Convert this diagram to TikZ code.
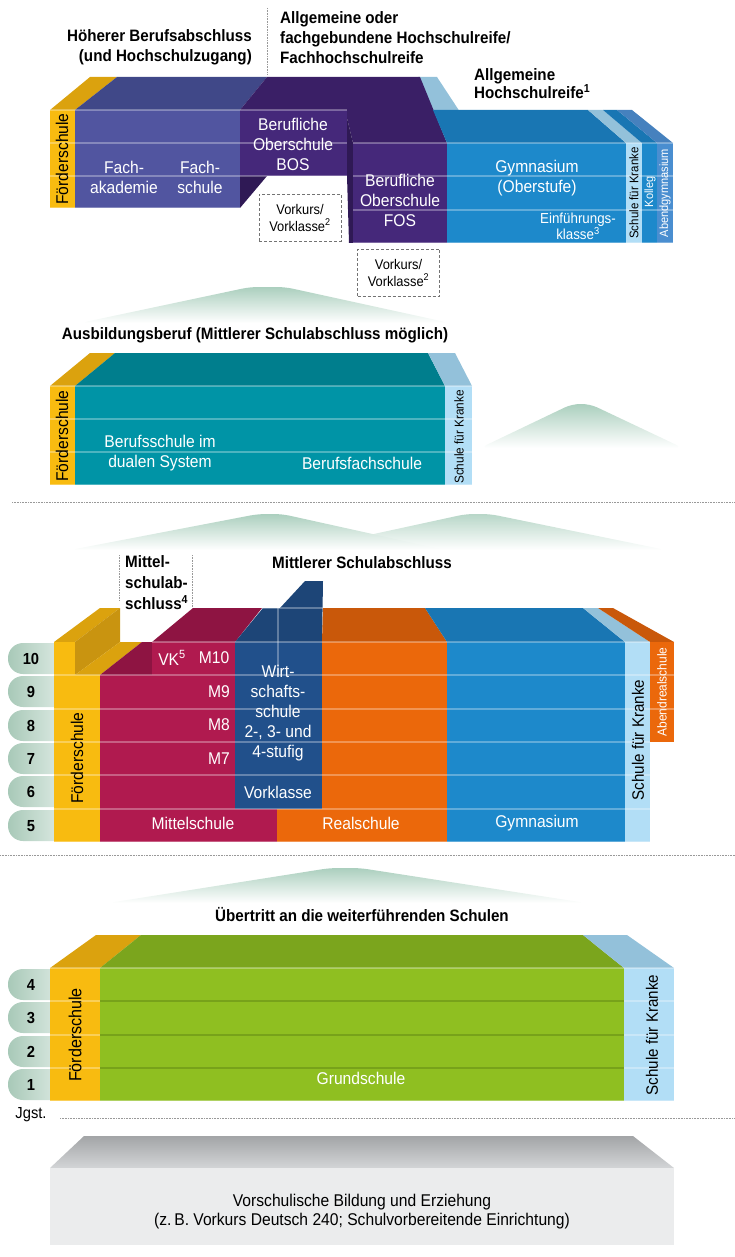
\documentclass[tikz,border=0pt]{standalone}
\usepackage{fontspec}
\setmainfont{Liberation Sans}[FakeStretch=0.92]
\usepackage{xcolor}
\usepackage{tikz}
\usetikzlibrary{positioning}
\definecolor{foerder}{HTML}{F8BB10}
\definecolor{foerdertop}{HTML}{DBA20E}
\definecolor{foerderside}{HTML}{C99410}
\definecolor{fach}{HTML}{5155A0}
\definecolor{fachtop}{HTML}{404888}
\definecolor{bos}{HTML}{45287A}
\definecolor{bostop}{HTML}{3A1F66}
\definecolor{bosside}{HTML}{2F1955}
\definecolor{gym}{HTML}{1D89CB}
\definecolor{gymtop}{HTML}{1976B3}
\definecolor{sfk}{HTML}{B2DEF6}
\definecolor{sfktop}{HTML}{93C1DA}
\definecolor{abend}{HTML}{4A8ED0}
\definecolor{abendtop}{HTML}{4681BE}
\definecolor{teal}{HTML}{0094A6}
\definecolor{tealtop}{HTML}{007E8D}
\definecolor{ms}{HTML}{B01A4F}
\definecolor{mstop}{HTML}{8E1442}
\definecolor{ws}{HTML}{21508B}
\definecolor{wstop}{HTML}{1D4577}
\definecolor{rs}{HTML}{EB680B}
\definecolor{rstop}{HTML}{C9580A}
\definecolor{gs}{HTML}{8FBF21}
\definecolor{gstop}{HTML}{7BA51D}
\definecolor{gsline}{HTML}{77A21A}
\definecolor{pillc}{HTML}{A8C9B8}
\definecolor{hillc}{HTML}{ABCFBE}
\definecolor{vorback}{HTML}{A3A5A7}
\definecolor{vortop}{HTML}{D3D5D7}
\definecolor{vorfront}{HTML}{EBECED}

\begin{document}
\begin{tikzpicture}[x=1pt,y=-1pt]
	\tikzstyle{txt}=[text=white,align=center,inner sep=0pt,font=\fontsize{17}{20}\selectfont]
	\tikzstyle{headline}=[align=center,inner sep=0pt,font=\bfseries\fontsize{16.5}{20}\selectfont]
	\tikzstyle{vert}=[rotate=90,inner sep=0pt,font=\fontsize{17}{17}\selectfont]
	\tikzstyle{smalltxt}=[font=\fontsize{12}{12}\selectfont]
	\tikzstyle{rowline}=[white,opacity=0.3,line width=1.5pt]
	\tikzstyle{pill}=[left color=pillc,right color=pillc!30,rounded corners=15pt]
	\tikzstyle{hill}=[top color=hillc,bottom color=white,rounded corners=8pt]
	\tikzstyle{grade}=[inner sep=0pt,font=\bfseries\fontsize{16}{16}\selectfont]
	\tikzstyle{vkbox}=[draw=black!55,dash pattern=on 3pt off 2pt,line width=0.9pt,align=center,inner sep=0pt,minimum width=82pt,minimum height=47pt,font=\fontsize{14}{17}\selectfont]
	\tikzstyle{dots}=[black!40,line width=0.8pt,dash pattern=on 0.8pt off 0.8pt]
	\useasboundingbox (0,0) rectangle (735,1257);

	\node[headline,align=right,anchor=east] (hberuf) at (252,47.5) {Höherer Berufsabschluss\\(und Hochschulzugang)};
	\draw[dots] (267,8) -- (267,75);
	\node[headline,align=left,anchor=west] (hfhr) at (280,37.5) {Allgemeine oder\\fachgebundene Hochschulreife/\\Fachhochschulreife};
	\node[headline,align=left,anchor=west,font=\bfseries\fontsize{16.5}{18}\selectfont] (hahr) at (474,84) {Allgemeine\\Hochschulreife\textsuperscript{1}};

	\fill[foerdertop] (50,110) -- (90,77) -- (117,77) -- (75,110) -- cycle;
	\fill[fachtop] (75,110) -- (117,77) -- (267,77) -- (240,110) -- cycle;
	\fill[sfktop] (418,77) -- (437,77) -- (460,112) -- (433,112) -- cycle;
	\fill[bostop] (240,110) -- (267,77) -- (420,77) -- (447,143) -- (353,143) -- (347,118) -- (347,110) -- cycle;
	\fill[gymtop] (433,110) -- (588,110) -- (626,143) -- (447,143) -- cycle;
	\fill[sfktop] (588,110) -- (603,110) -- (642,143) -- (626,143) -- cycle;
	\fill[gymtop] (603,110) -- (617,110) -- (657,143) -- (642,143) -- cycle;
	\fill[abendtop] (617,110) -- (632,110) -- (673,143) -- (657,143) -- cycle;
	\fill[foerder] (50,110) rectangle (75,208);
	\fill[fach] (75,110) rectangle (240,208);
	\fill[bos] (240,110) rectangle (347,176);
	\fill[bosside] (240,176) -- (267,176) -- (240,208) -- cycle;
	\fill[bosside] (347,118) -- (353,143) -- (353,243) -- (349,243) -- (347,176) -- cycle;
	\fill[bos] (353,143) rectangle (447,243);
	\fill[gym] (447,143) rectangle (626,243);
	\fill[sfk] (626,143) rectangle (642,243);
	\fill[gym] (642,143) rectangle (657,243);
	\fill[abend] (657,143) rectangle (673,243);
	\foreach \y in {110,143,176,208} \draw[rowline] (50,\y) -- (240,\y);
	\foreach \y in {110,143,176} \draw[rowline] (240,\y) -- (347,\y);
	\foreach \y in {143,176,210,243} \draw[rowline] (353,\y) -- (673,\y);
	\node[vert] (fs1) at (62,159) {Förderschule};
	\node[txt] (fachak) at (124,177) {Fach-\\akademie};
	\node[txt] (fachs) at (200,177) {Fach-\\schule};
	\node[txt] (bos) at (293,144) {Berufliche\\Oberschule\\BOS};
	\node[txt] (fos) at (400,200) {Berufliche\\Oberschule\\FOS};
	\node[vkbox] (vk1) at (300,217.5) {Vorkurs/\\Vorklasse\textsuperscript{2}};
	\node[vkbox] (vk2) at (398.5,272.5) {Vorkurs/\\Vorklasse\textsuperscript{2}};
	\node[txt] (gymo) at (537,178) {Gymnasium\\(Oberstufe)};
	\node[txt,font=\fontsize{14.5}{14}\selectfont] (einf) at (578,226) {Einführungs-\\klasse\textsuperscript{3}};
	\node[vert,smalltxt,font=\fontsize{12.5}{12}\selectfont] (sfk1) at (634,193) {Schule für Kranke};
	\node[vert,smalltxt,text=white] (kolleg) at (650,192) {Kolleg};
	\node[vert,smalltxt,text=white] (abgym) at (665,193) {Abendgymnasium};

	\shade[hill] (80,323) -- (250,287) -- (285,287) -- (450,323) -- cycle;
	\node[headline] (hausb) at (255,335) {Ausbildungsberuf (Mittlerer Schulabschluss möglich)};

	\fill[foerdertop] (50,386) -- (90,353) -- (115,353) -- (75,386) -- cycle;
	\fill[tealtop] (75,386) -- (115,353) -- (428,353) -- (445,386) -- cycle;
	\fill[sfktop] (445,386) -- (428,353) -- (455,353) -- (472,386) -- cycle;
	\fill[foerder] (50,386) rectangle (75,485);
	\fill[teal] (75,386) rectangle (445,485);
	\fill[sfk] (445,386) rectangle (472,485);
	\foreach \y in {386,419,452,485} \draw[rowline] (50,\y) -- (472,\y);
	\node[vert] (fs2) at (62,436) {Förderschule};
	\node[txt] (bsds) at (160,453) {Berufsschule im\\dualen System};
	\node[txt] (bfs) at (362,463) {Berufsfachschule};
	\node[vert,font=\fontsize{12.8}{12}\selectfont] (sfk2) at (459,437) {Schule für Kranke};
	\shade[hill] (480,448) -- (572,404) -- (590,404) -- (683,448) -- cycle;

	\draw[dots] (12,502) -- (735,502);

	\shade[hill] (70,550) -- (258,514) -- (282,514) -- (445,550) -- cycle;
	\shade[hill,opacity=0.85] (300,550) -- (466,514) -- (490,514) -- (666,550) -- cycle;
	\draw[dots] (119,555) -- (119,600);
	\draw[dots] (192,555) -- (192,607);
	\node[headline,align=left,anchor=west,font=\bfseries\fontsize{16.5}{21}\selectfont] (hmsa) at (125,583) {Mittel-\\schulab-\\schluss\textsuperscript{4}};
	\node[headline] (hmsab) at (362,563) {Mittlerer Schulabschluss};

	\foreach \y/\n in {642/10,675/9,709/8,742/7,775/6,809/5}{
		\shade[pill] (8,{\y+1}) rectangle (70,{\y+32});
		\node[grade] (jg\n) at (31,{\y+17}) {\n};
	}
	\fill[foerdertop] (54,642) -- (100,608) -- (120,608) -- (75,642) -- cycle;
	\fill[foerderside] (75,642) -- (120,608) -- (120,642) -- (75,675) -- cycle;
	\fill[foerdertop] (75,675) -- (120,642) -- (142,642) -- (100,675) -- cycle;
	\fill[mstop] (100,675) -- (142,642) -- (152,642) -- (152,675) -- cycle;
	\fill[mstop] (152,642) -- (193,608) -- (262,608) -- (235,642) -- cycle;
	\fill[wstop] (235,642) -- (263,608) -- (280,608) -- (305,581) -- (323,581) -- (322,642) -- cycle;
	\fill[rstop] (322,642) -- (323,608) -- (425,608) -- (447,642) -- cycle;
	\fill[gymtop] (447,642) -- (425,608) -- (583,608) -- (625,642) -- cycle;
	\fill[sfktop] (625,642) -- (583,608) -- (598,608) -- (650,642) -- cycle;
	\fill[rstop] (650,642) -- (598,608) -- (613,608) -- (674,642) -- cycle;
	\fill[foerder] (54,642) rectangle (75,675);
	\fill[foerder] (54,675) rectangle (100,842);
	\fill[ms] (152,642) rectangle (235,675);
	\fill[ms] (100,675) rectangle (235,809);
	\fill[ms] (100,809) rectangle (277,842);
	\fill[ws] (235,642) rectangle (322,809);
	\fill[rs] (322,642) rectangle (447,809);
	\fill[rs] (277,809) rectangle (447,842);
	\fill[gym] (447,642) rectangle (625,842);
	\fill[sfk] (625,642) rectangle (650,842);
	\fill[rs] (650,642) rectangle (674,742);
	\draw[rowline] (263,608) -- (323,608);
	\draw[rowline] (278,608) -- (278,675);
	\draw[rowline] (152,642) -- (650,642);
	\foreach \y in {675,709,742,775,809,842} \draw[rowline] (54,\y) -- (650,\y);
	\foreach \y in {675,709} \draw[rowline] (650,\y) -- (674,\y);
	\node[vert] (fs3) at (77,758) {Förderschule};
	\node[txt] (vk) at (172,658) {VK\textsuperscript{5}};
	\node[txt] (m10) at (214,658) {M10};
	\node[txt,anchor=east] (m9) at (230,692) {M9};
	\node[txt,anchor=east] (m8) at (230,725) {M8};
	\node[txt,anchor=east] (m7) at (230,759) {M7};
	\node[txt] (wirt) at (278,713) {Wirt-\\schafts-\\schule\\2-, 3- und\\4-stufig};
	\node[txt] (vorkl) at (278,792) {Vorklasse};
	\node[txt] (mittel) at (193,823) {Mittelschule};
	\node[txt] (real) at (361,823) {Realschule};
	\node[txt] (gym5) at (537,823) {Gymnasium};
	\node[vert,font=\fontsize{16.5}{16}\selectfont] (sfk3) at (638,740) {Schule für Kranke};
	\node[vert,text=white,font=\fontsize{13}{13}\selectfont] (abrs) at (662,692) {Abendrealschule};

	\draw[dots] (0,855) -- (735,855);

	\shade[hill] (108,903) -- (330,868) -- (360,868) -- (586,903) -- cycle;
	\node[headline] (huebertritt) at (362,915) {Übertritt an die weiterführenden Schulen};

	\foreach \y/\n in {968/4,1001/3,1035/2,1068/1}{
		\shade[pill] (8,{\y+1}) rectangle (70,{\y+32});
		\node[grade] (jg\n) at (31,{\y+17}) {\n};
	}
	\fill[foerdertop] (50,968) -- (96,935) -- (141,935) -- (100,968) -- cycle;
	\fill[gstop] (100,968) -- (141,935) -- (583,935) -- (624,968) -- cycle;
	\fill[sfktop] (624,968) -- (583,935) -- (627,935) -- (674,968) -- cycle;
	\fill[foerder] (50,968) rectangle (100,1101);
	\fill[gs] (100,968) rectangle (624,1101);
	\fill[sfk] (624,968) rectangle (674,1101);
	\foreach \y in {968,1001,1035,1068,1101} \draw[rowline] (50,\y) -- (674,\y);
	\foreach \y in {1001,1035,1068} \draw[gsline,line width=1.5pt] (100,\y) -- (624,\y);
	\node[vert,font=\fontsize{17.5}{17}\selectfont] (fs4) at (75,1035) {Förderschule};
	\node[txt] (grund) at (361,1078) {Grundschule};
	\node[vert,font=\fontsize{16.5}{16}\selectfont] (sfk4) at (652,1035) {Schule für Kranke};
	\node[inner sep=0pt,font=\fontsize{16}{16}\selectfont] (jgst) at (31,1115) {Jgst.};
	\draw[dots] (60,1118) -- (735,1118);

	\shade[top color=vorback,bottom color=vortop] (50,1168) -- (84,1136) -- (633,1136) -- (674,1168) -- cycle;
	\fill[vorfront] (50,1168) rectangle (674,1245);
	\node[txt,text=black,font=\fontsize{17}{19}\selectfont] (vorsch) at (362,1212) {Vorschulische Bildung und Erziehung\\(z.\,B. Vorkurs Deutsch 240; Schulvorbereitende Einrichtung)};
\end{tikzpicture}
\end{document}
